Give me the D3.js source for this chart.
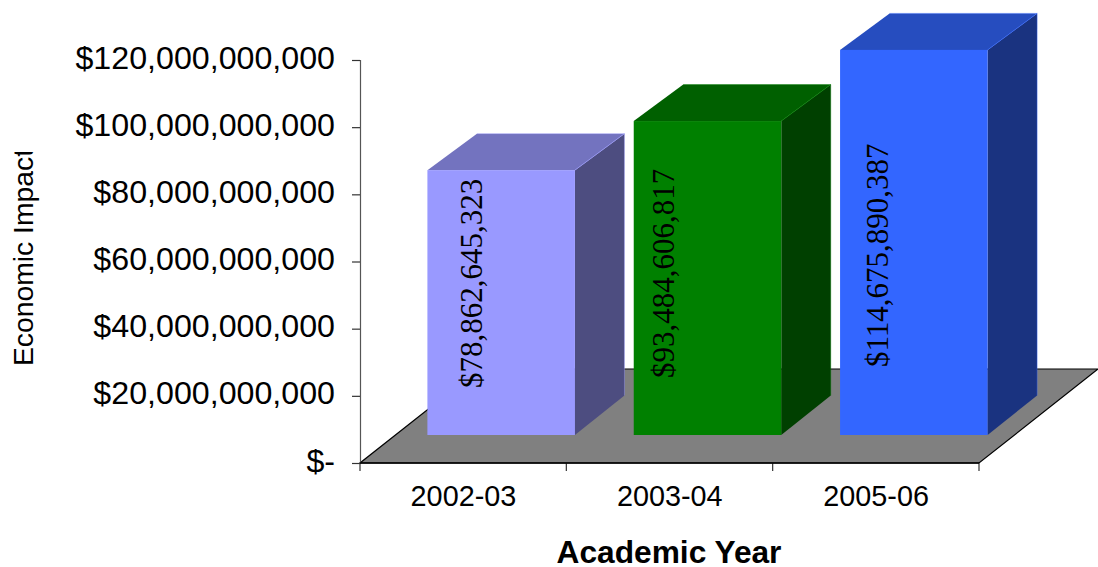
<!DOCTYPE html>
<html>
<head>
<meta charset="utf-8">
<script src="https://cdn.jsdelivr.net/npm/d3@7"></script>
<style>
html, body { margin: 0; padding: 0; background: #fff; overflow: hidden; }
svg { display: block; }
text { fill: #000; }
</style>
</head>
<body>
<svg id="chart" width="1098" height="567"></svg>
<script>
// Economic impact by academic year
const years = ["2002-03", "2003-04", "2005-06"];
const impacts = [78862645323, 93484606817, 114675890387];
const impactLabels = ["$78,862,645,323", "$93,484,606,817", "$114,675,890,387"];
const tickValues = [0, 20e9, 40e9, 60e9, 80e9, 100e9, 120e9];
const faceColors = ["#9999ff", "#008000", "#3366ff"];
const topColors = ["#7373bf", "#006000", "#264dbf"];
const sideColors = ["#4d4d80", "#004000", "#1a3380"];

const svg = d3.select("#chart");

const x = d3.scaleBand().domain(years).range([360, 979]).paddingInner(0.285).paddingOuter(0.1425);
const y = d3.scaleLinear().domain([0, 120e9]).range([463, 60]);

// Oblique projection offsets for the floor and the bar depth
const floorDepth = { dx: 119, dy: -94 };
const barFront = { dx: 38, dy: -28 };
const barDepth = { dx: 49.5, dyTop: -36.5, dyBottom: -39.5 };

const poly = pts => pts.map(p => p.join(",")).join(" ");

// Floor
const x0 = x.range()[0], x1 = x.range()[1], y0 = y(0);
svg.append("polygon")
  .attr("points", poly([[x0, y0], [x1, y0], [x1 + floorDepth.dx, y0 + floorDepth.dy], [x0 + floorDepth.dx, y0 + floorDepth.dy]]))
  .attr("fill", "#808080").attr("stroke", "#000").attr("stroke-width", 1.2);

// Bars: side and top faces first, then the front face
const bars = svg.append("g").selectAll("g").data(years).join("g");
const geom = (d, i) => {
  const l = x(d) + barFront.dx, r = l + x.bandwidth();
  const b = y(0) + barFront.dy, t = y(impacts[i]) + barFront.dy;
  return { l, r, b, t };
};
bars.append("polygon")
  .attr("points", (d, i) => {
    const g = geom(d, i);
    return poly([[g.r, g.t], [g.r + barDepth.dx, g.t + barDepth.dyTop], [g.r + barDepth.dx, g.b + barDepth.dyBottom], [g.r, g.b]]);
  })
  .attr("fill", (d, i) => sideColors[i]);
bars.append("polygon")
  .attr("points", (d, i) => {
    const g = geom(d, i);
    return poly([[g.l, g.t], [g.l + barDepth.dx, g.t + barDepth.dyTop], [g.r + barDepth.dx, g.t + barDepth.dyTop], [g.r, g.t]]);
  })
  .attr("fill", (d, i) => topColors[i]);
// Faint highlight along the back and shared edges of each box
bars.append("polyline")
  .attr("points", (d, i) => {
    const g = geom(d, i);
    const bx = g.r + barDepth.dx, by = g.t + barDepth.dyTop;
    return poly([[g.l + barDepth.dx, by], [bx, by], [g.r, g.t], [bx, by], [bx, g.b + barDepth.dyBottom]]);
  })
  .attr("fill", "none").attr("stroke", (d, i) => faceColors[i]).attr("stroke-opacity", 0.5).attr("stroke-width", 0.8);
bars.append("rect")
  .attr("x", (d, i) => geom(d, i).l).attr("y", (d, i) => geom(d, i).t)
  .attr("width", x.bandwidth()).attr("height", (d, i) => geom(d, i).b - geom(d, i).t)
  .attr("fill", (d, i) => faceColors[i]);

// Value labels, written upward along each bar
const labelBase = [482, 674, 888];
const labelStart = [388, 378, 367];
bars.append("text")
  .attr("transform", (d, i) => `translate(${labelBase[i]},${labelStart[i]}) rotate(-90)`)
  .attr("font-family", "'Liberation Serif', serif").attr("font-size", 31)
  .text((d, i) => impactLabels[i]);

// Value axis
const yAxis = svg.append("g").attr("transform", `translate(${x0},0)`)
  .call(d3.axisLeft(y).tickValues(tickValues).tickSize(8).tickPadding(17)
    .tickFormat(v => v === 0 ? "$-" : "$" + d3.format(",")(v)));
yAxis.select(".domain").attr("stroke", "#555").attr("stroke-width", 1.2);
yAxis.selectAll("line").attr("stroke", "#333").attr("stroke-width", 1.2);
yAxis.selectAll("text").attr("font-family", "'Liberation Sans', sans-serif").attr("font-size", 32.2).attr("dy", "8px");

// Category axis with ticks at band boundaries
const boundaries = d3.range(years.length + 1).map(i => x0 + i * (x1 - x0) / years.length);
svg.append("g").selectAll("line").data(boundaries).join("line")
  .attr("x1", d => d).attr("x2", d => d).attr("y1", y0).attr("y2", y0 + 8)
  .attr("stroke", "#333").attr("stroke-width", 1.2);
svg.append("line").attr("x1", x0).attr("x2", x1).attr("y1", y0).attr("y2", y0).attr("stroke", "#000").attr("stroke-width", 1.5);
svg.append("g").selectAll("text").data(years).join("text")
  .attr("x", d => x(d) + x.bandwidth() / 2 + 0.3).attr("y", 506)
  .attr("text-anchor", "middle")
  .attr("font-family", "'Liberation Sans', sans-serif").attr("font-size", 28.8)
  .text(d => d);

// Axis titles
svg.append("text").attr("x", 669).attr("y", 563).attr("text-anchor", "middle")
  .attr("font-family", "'Liberation Sans', sans-serif").attr("font-size", 31.7).attr("font-weight", "bold")
  .text("Academic Year");

svg.append("clipPath").attr("id", "title-clip").append("rect")
  .attr("x", 0).attr("y", 152).attr("width", 60).attr("height", 230);
svg.append("g").attr("clip-path", "url(#title-clip)").append("text")
  .attr("transform", "translate(33,366) rotate(-90)")
  .attr("font-family", "'Liberation Sans', sans-serif").attr("font-size", 28.3)
  .text("Economic Impact");
</script>
</body>
</html>
